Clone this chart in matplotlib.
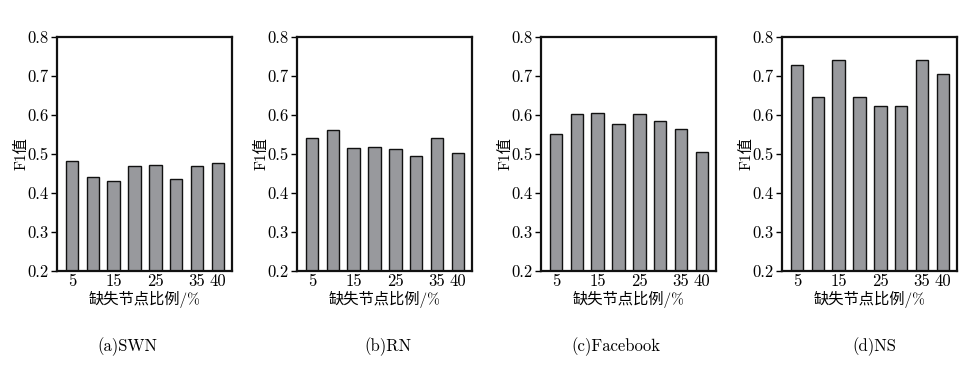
import matplotlib
matplotlib.use("Agg")
import matplotlib.pyplot as plt

plt.rcParams['font.family'] = ['cmr10', 'Noto Sans CJK SC']
plt.rcParams['axes.formatter.use_mathtext'] = True

ratios = [5, 10, 15, 20, 25, 30, 35, 40]
tick_pos = [5, 15, 25, 35, 40]
tick_labels = ['5', '15', '25', '35', '40']

swn = [0.483, 0.442, 0.430, 0.470, 0.473, 0.435, 0.468, 0.476]
rn = [0.542, 0.562, 0.516, 0.519, 0.514, 0.496, 0.542, 0.503]
facebook = [0.551, 0.603, 0.605, 0.578, 0.603, 0.585, 0.565, 0.506]
ns = [0.727, 0.645, 0.740, 0.647, 0.624, 0.624, 0.740, 0.704]

series = [swn, rn, facebook, ns]
captions = ['(a)SWN', '(b)RN', '(c)Facebook', '(d)NS']

W, H = 978, 375
fig = plt.figure(figsize=(W / 100, H / 100), dpi=100)

lefts = [57, 297, 541, 782]
axw = 175
top, bottom = 37, 271
caption_x = [127, 388, 616, 874]

for i, (vals, cap) in enumerate(zip(series, captions)):
    ax = fig.add_axes([lefts[i] / W, 1 - bottom / H, axw / W, (bottom - top) / H])
    ax.bar(ratios, vals, width=3.0, color='#98999d', edgecolor='#111111', linewidth=1.0)
    ax.set_xlim(1.4, 43.4)
    ax.set_ylim(0.2, 0.8)
    ax.set_yticks([0.2, 0.3, 0.4, 0.5, 0.6, 0.7, 0.8])
    ax.set_yticklabels(['0.2', '0.3', '0.4', '0.5', '0.6', '0.7', '0.8'])
    ax.set_xticks(tick_pos)
    ax.set_xticklabels(tick_labels)
    ax.tick_params(axis='x', length=0, pad=2, labelsize=12)
    ax.tick_params(axis='y', direction='out', length=4, width=1.0, pad=2, labelsize=12)
    for s in ax.spines.values():
        s.set_linewidth(1.6)
        s.set_color('#111111')
    ax.set_xlabel('缺失节点比例/%', fontsize=11, labelpad=1)
    ax.set_ylabel('F1值', fontsize=11, labelpad=-1)
    fig.text(caption_x[i] / W, 1 - 347 / H, cap, ha='center', va='center', fontsize=12)

fig.savefig('out.png', dpi=100)
